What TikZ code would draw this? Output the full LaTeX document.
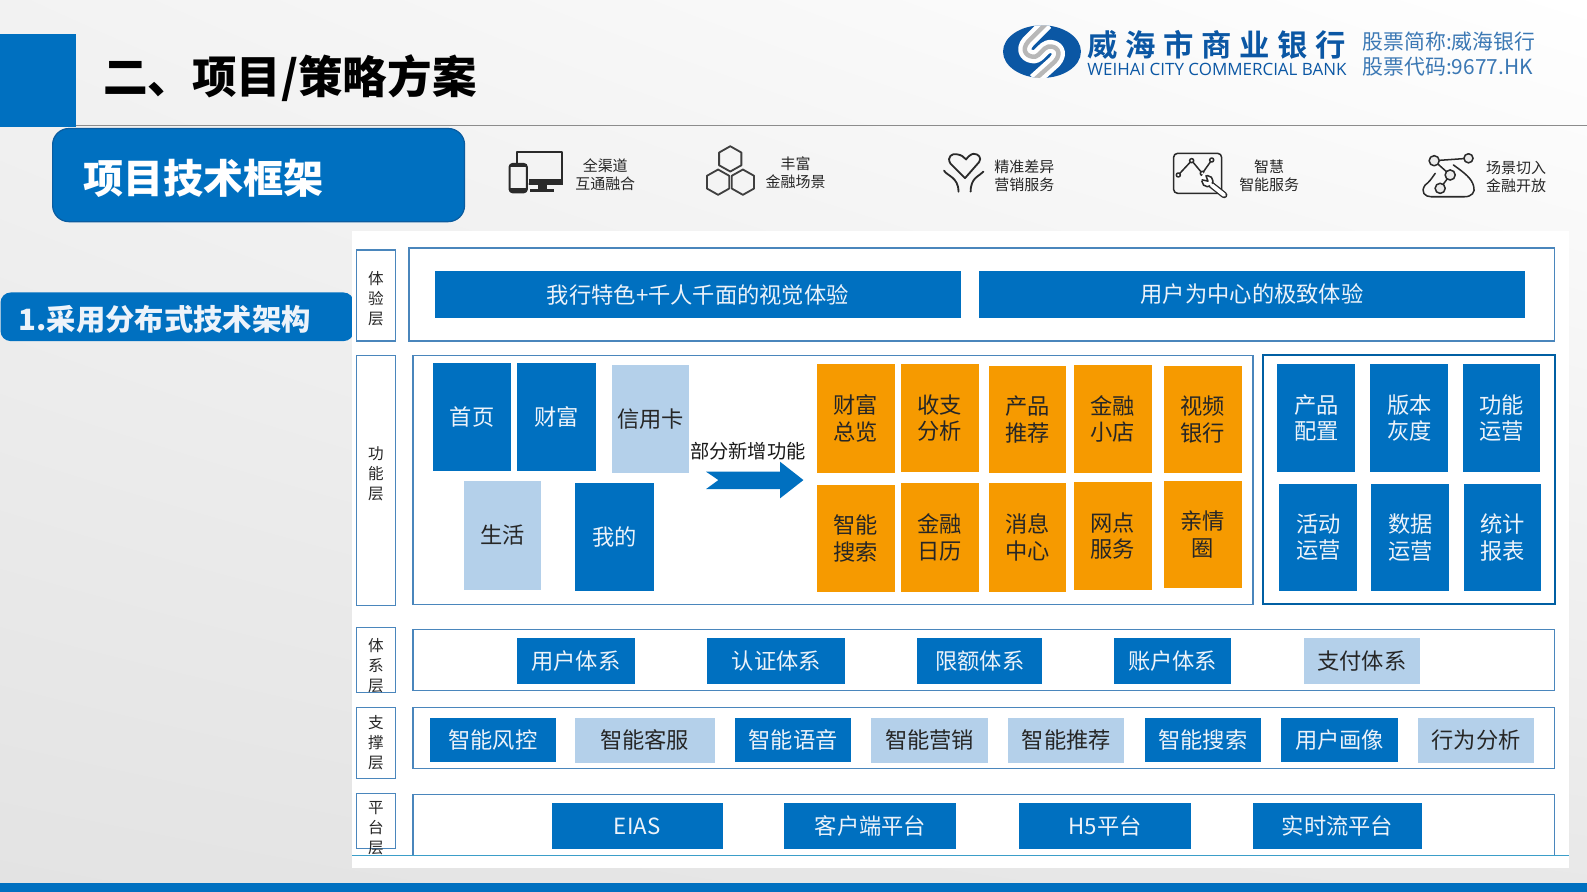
\documentclass[tikz,border=0pt]{standalone}
\usepackage{fontspec}
\setmainfont{Noto Sans CJK SC}
\newfontfamily\bankf{Noto Sans CJK SC Bold}[LetterSpace=25]
\newfontfamily\latinf{Open Sans}
\usetikzlibrary{calc,shadings}
\definecolor{mainblue}{HTML}{0070C0}
\definecolor{lightblue}{HTML}{B4D0EA}
\definecolor{mainorange}{HTML}{F69A00}
\definecolor{frameblue}{HTML}{4A86BC}
\definecolor{logoblue}{HTML}{0B57A4}
\definecolor{stocktext}{HTML}{3B78B4}
\definecolor{softwhite}{HTML}{EDF3FA}
\definecolor{icondark}{HTML}{2A2A2A}
\definecolor{bandborder}{HTML}{0A5CA0}
\newcommand{\bx}[7][]{\node[#1,minimum width={(#5-#3)*0.5pt},minimum height={(#6-#4)*0.5pt},inner sep=0pt] (#2) at ({(#3+#5)/2},{(#4+#6)/2}) {#7};}
\newcommand{\lay}[7]{\node[layerbox,minimum width={(#4-#2)*0.5pt},minimum height={(#5-#3)*0.5pt},inner sep=0pt] (#1) at ({(#2+#4)/2},{(#3+#5)/2}) {};
  \node[layertext] (#1t) at ({(#2+#4)/2},#6) {#7};}
\newcommand{\hexa}[2]{\draw[hexline] ($(#1,#2)+(0,-12.5)$) -- ++(11,6.2) -- ++(0,12.6) -- ++(-11,6.2) -- ++(-11,-6.2) -- ++(0,-12.6) -- cycle;}
\tikzset{
  x=0.5pt,y=-0.5pt,
  bluebox/.style={fill=mainblue,text=softwhite,font=\fontsize{11}{13}\selectfont,align=center},
  lightbox/.style={fill=lightblue,text=black!85,font=\fontsize{11}{13}\selectfont,align=center},
  orangebox/.style={fill=mainorange,text=black!85,font=\fontsize{11}{13}\selectfont,align=center},
  container/.style={draw=frameblue,line width=0.6pt,fill=white},
  layerbox/.style={draw=frameblue,line width=0.6pt,fill=white},
  layertext/.style={font=\fontsize{7.7}{9.9}\selectfont,align=center,text=black!85,inner sep=0pt},
  feature/.style={font=\fontsize{7.4}{9}\selectfont,align=center,text=black!85,inner sep=0pt},
  iconline/.style={draw=icondark,line width=0.75pt,line cap=round,line join=round},
  hexline/.style={draw=icondark!90,line width=0.9pt,line join=round},
  stock/.style={font=\fontsize{10.3}{12}\selectfont,text=stocktext,anchor=west,inner sep=0pt},
}
\begin{document}
\begin{tikzpicture}
\useasboundingbox (0,0) rectangle (1568,881);
% background
\shade[upper left=black!5,upper right=white,lower left=black!11,lower right=black!9] (0,0) rectangle (1568,881);
\fill[mainblue] (0,872) rectangle (1568,881);
\draw[black!45,line width=0.7pt] (75,124) -- (1568,124);
\fill[mainblue] (0,34) rectangle (75,125);
\node[font=\fontsize{22}{24}\selectfont\bfseries,anchor=west,inner sep=0pt] (title) at (101.5,77) {二、项目/策略方案};
% logo
\fill[logoblue] (1029.5,51) ellipse [x radius=38.5,y radius=26];
\begin{scope}
\clip (1029.5,51) ellipse [x radius=38.5,y radius=26];
\def\spath{(1034,23) -- (1016,41) .. controls (1008,50) and (1015,57) .. (1023,56) .. controls (1027,55) and (1031,47) .. (1036,46) .. controls (1044,45) and (1050,52) .. (1042,61) -- (1022,79)}
\draw[white,line width=6.5pt,line join=round] \spath;
\draw[black!28,line width=2.2pt,line join=round] \spath;
\end{scope}
\node[font=\fontsize{15}{16}\selectfont\bankf,text=logoblue,anchor=west,inner sep=0pt] (bankcn) at (1074,44) {威海市商业银行};
\node[font=\fontsize{8.38}{9}\selectfont\latinf,text=logoblue,anchor=west,inner sep=0pt] (banken) at (1074,69) {WEIHAI CITY COMMERCIAL BANK};
\node[stock] (stock1) at (1346,41) {股票简称:威海银行};
\node[stock] (stock2) at (1346,66) {股票代码:9677.HK};
% heading band
\node[draw=bandborder,line width=0.6pt,fill=mainblue,rounded corners=8pt,minimum width={407*0.5pt},minimum height={92*0.5pt},inner sep=0pt] (band) at (255.5,173) {};
\node[font=\fontsize{19.8}{22}\selectfont\bfseries,text=white,anchor=west,inner sep=0pt] (bandt) at (82,176) {项目技术框架};
% feature icons
\draw[iconline,line width=0.9pt] (510.5,162) -- (510.5,150.5) -- (555.5,150.5) -- (555.5,182) -- (523,182);
\fill[icondark] (523,177) rectangle (556,183);
\fill[icondark] (532,183) rectangle (540,187);
\fill[icondark] (524,187) rectangle (547,190);
\draw[iconline,line width=1pt,rounded corners=1.5pt] (503.5,162) rectangle (520.5,190);
\fill[icondark] (503.5,162) rectangle (520.5,165.5);
\fill[icondark] (503.5,186) rectangle (520.5,190);
\hexa{721.5}{157}
\hexa{709.5}{180}
\hexa{734}{180}
\draw[iconline,line width=0.9pt] (953.5,176) -- (939,161.5) .. controls (935,155) and (941,151) .. (945.5,152.5) .. controls (950,153) and (952,155) .. (954.5,157.5) .. controls (957,154) and (960,152) .. (962,152) .. controls (967,152) and (970,156) .. (967.5,160) -- cycle;
\draw[iconline,line width=0.9pt] (932.7,168.6) .. controls (936,174) and (947,175) .. (947,189.4);
\draw[iconline,line width=0.9pt] (971.6,169.6) .. controls (968,174) and (959,175) .. (959,189.4);
\draw[iconline,rounded corners=2pt] (1159.5,151.5) rectangle (1207,191);
\draw[iconline] (1164.2,172.9) -- (1177.4,158.7) -- (1187.9,171.3) -- (1197.2,158.1);
\foreach \p in {(1164.2,172.9),(1177.4,158.7),(1187.9,171.3),(1197.2,158.1)} \draw[iconline,fill=white] \p circle [radius=2];
\draw[icondark,line width=3.2pt,line cap=round] (1196,182) -- (1209.5,192.7);
\draw[white,line width=1.9pt,line cap=round] (1196,182) -- (1209.5,192.7);
\draw[iconline,fill=white] (1193,179) circle [radius=5.5];
\fill[white] (1194,179.5) -- (1185,178) -- (1190,170) -- cycle;
\draw[iconline] (1187.7,177.7) -- (1193.5,179) -- (1191.5,173.6);
\draw[white,line width=1.3pt,line cap=round] (1196,182) -- (1200,185.2);
\draw[iconline] (1418,171.3) .. controls (1414,177) and (1412,180) .. (1408.1,182.8) .. controls (1403,190) and (1408,194.4) .. (1414,194.4) -- (1447,194.4) .. controls (1454,194.4) and (1458,190) .. (1456,184) .. controls (1454,176) and (1447,171) .. (1436,163);
\draw[iconline] (1417,158.8) -- (1450.9,156.4);
\draw[iconline] (1417,158.8) -- (1432.8,172.9) -- (1422.9,186.1);
\foreach \p/\r in {(1417,158.8)/5,(1450.9,156.4)/4.5,(1432.8,172.9)/5,(1422.9,186.1)/5} \draw[iconline,fill=white!92!black] \p circle [radius=\r];
\node[feature] (f1) at (598,172.5) {全渠道\\互通融合};
\node[feature] (f2) at (786,170.5) {丰富\\金融场景};
\node[feature] (f3) at (1012,173.5) {精准差异\\营销服务};
\node[feature] (f4) at (1254,173.5) {智慧\\智能服务};
\node[feature] (f5) at (1498,174.5) {场景切入\\金融开放};
% left band
\node[fill=mainblue,rounded corners=5pt,minimum width={349*0.5pt},minimum height={48*0.5pt},inner sep=0pt] (tag) at (175,313) {};
\node[font=\fontsize{14.5}{17}\selectfont\bfseries,text=softwhite,anchor=west,inner sep=0pt] (tagt) at (18,316) {1.采用分布式技术架构};
% panel
\fill[white] (348,228) rectangle (1550,858);
% containers
\bx[container]{c1}{404}{245}{1536}{337}{}
\bx[container]{c2}{408}{351}{1238}{597}{}
\bx[container,line width=1pt,draw=mainblue!85!black]{c3}{1248}{351}{1536}{597}{}
\bx[container]{c4}{408}{622}{1536}{682}{}
\bx[container]{c5}{408}{699}{1536}{759}{}
\draw[frameblue,line width=0.6pt] (408,845) -- (408,785) -- (1536,785) -- (1536,845);
% layer labels
\lay{l1}{352}{247}{391}{337}{295}{体\\验\\层}
\lay{l2}{352}{351}{391}{598}{468}{功\\能\\层}
\lay{l3}{352}{620}{391}{684}{658}{体\\系\\层}
\lay{l4}{352}{699}{391}{769}{734}{支\\撑\\层}
\lay{l5}{352}{784}{391}{838}{818}{平\\台\\层}
\draw[frameblue!80!cyan,line width=0.6pt] (348,845) -- (1550,845);
% experience
\bx[bluebox]{e1}{430}{268}{949}{314}{我行特色+千人千面的视觉体验}
\bx[bluebox]{e2}{967}{268}{1507}{314}{用户为中心的极致体验}
% function left
\bx[bluebox]{a1}{428}{359}{505}{465}{首页}
\bx[bluebox]{a2}{511}{359}{589}{465}{财富}
\bx[lightbox]{a3}{605}{361}{681}{467}{信用卡}
\bx[lightbox]{a4}{458}{475}{535}{583}{生活}
\bx[bluebox]{a5}{568}{477}{646}{584}{我的}
\node[font=\fontsize{9.5}{11}\selectfont,text=black!90,inner sep=0pt] (newlab) at (739,446) {部分新增功能};
\fill[mainblue] (697.6,466.1) -- (770.7,466.1) -- (770.7,456.2) -- (793.8,474.3) -- (770.7,492.4) -- (770.7,483.2) -- (697.6,483.2) -- (709.8,474.3) -- cycle;
% orange
\bx[orangebox]{o1}{807}{360}{884}{467}{财富\\总览}
\bx[orangebox]{o2}{890}{360}{967}{466}{收支\\分析}
\bx[orangebox]{o3}{977}{362}{1053}{467}{产品\\推荐}
\bx[orangebox]{o4}{1061}{361}{1138}{467}{金融\\小店}
\bx[orangebox]{o5}{1150}{362}{1227}{467}{视频\\银行}
\bx[orangebox]{o6}{807}{479}{884}{585}{智能\\搜索}
\bx[orangebox]{o7}{890}{477}{967}{585}{金融\\日历}
\bx[orangebox]{o8}{977}{477}{1053}{585}{消息\\中心}
\bx[orangebox]{o9}{1061}{476}{1138}{583}{网点\\服务}
\bx[orangebox]{o10}{1150}{475}{1227}{581}{亲情\\圈}
% function right
\bx[bluebox]{r1}{1262}{360}{1339}{466}{产品\\配置}
\bx[bluebox]{r2}{1354}{360}{1431}{466}{版本\\灰度}
\bx[bluebox]{r3}{1445}{360}{1522}{466}{功能\\运营}
\bx[bluebox]{r4}{1264}{478}{1341}{584}{活动\\运营}
\bx[bluebox]{r5}{1355}{478}{1432}{584}{数据\\运营}
\bx[bluebox]{r6}{1446}{478}{1523}{584}{统计\\报表}
% system
\bx[bluebox]{s1}{511}{630}{627}{676}{用户体系}
\bx[bluebox]{s2}{699}{630}{835}{676}{认证体系}
\bx[bluebox]{s3}{906}{630}{1030}{676}{限额体系}
\bx[bluebox]{s4}{1101}{630}{1216}{676}{账户体系}
\bx[lightbox]{s5}{1288}{630}{1403}{676}{支付体系}
% support
\bx[bluebox]{t1}{425}{709}{549}{753}{智能风控}
\bx[lightbox]{t2}{568}{709}{706}{754}{智能客服}
\bx[bluebox]{t3}{726}{709}{841}{753}{智能语音}
\bx[lightbox]{t4}{861}{709}{976}{754}{智能营销}
\bx[lightbox]{t5}{996}{709}{1111}{754}{智能推荐}
\bx[bluebox]{t6}{1131}{709}{1246}{753}{智能搜索}
\bx[bluebox]{t7}{1266}{709}{1381}{753}{用户画像}
\bx[lightbox]{t8}{1401}{709}{1516}{754}{行为分析}
% platform
\bx[bluebox]{p1}{545}{793}{714}{839}{EIAS}
\bx[bluebox]{p2}{775}{793}{945}{839}{客户端平台}
\bx[bluebox]{p3}{1007}{793}{1177}{839}{H5平台}
\bx[bluebox]{p4}{1238}{793}{1405}{839}{实时流平台}
\end{tikzpicture}
\end{document}
